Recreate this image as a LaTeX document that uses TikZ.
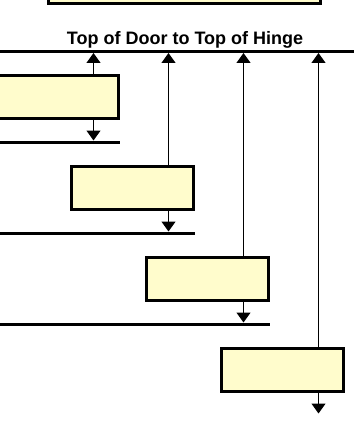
\documentclass[tikz,border=0pt]{standalone}
\usepackage{fontspec}
\setmainfont{Liberation Sans}
\usepackage{tikz}
\usetikzlibrary{arrows.meta,positioning}

\begin{document}
\begin{tikzpicture}[x=1pt,y=-1pt,>={Triangle[width=14pt,length=10pt]}]
    \tikzstyle{hinge}=[draw=black,line width=3pt,fill=yellow!20,minimum width=122pt,minimum height=42.5pt,inner sep=0pt];
    \tikzstyle{rule}=[draw=black,line width=3pt];
    \tikzstyle{dim}=[->,draw=black,line width=1.2pt];
    \tikzstyle{title}=[font=\bfseries\fontsize{18}{20}\selectfont,anchor=base];

    \useasboundingbox (0,0) rectangle (354,436);

    % Door at the top, only its lower part is seen
    \node[hinge, minimum width=272pt, anchor=south west] (door) at (46.5,5.5) {};

    % Reference line at the top of the door
    \node[title] (caption) at (185,45) {Top of Door to Top of Hinge};
    \draw[rule] (0,51.5) -- (354,51.5);
    \coordinate (top) at (0,53);

    % Draw the hinges and their dimension arrows
    \foreach \i / \x / \y in {1/57.5/97, 2/132.5/188, 3/207.5/279, 4/282.5/370}
    {
      \node[hinge] (B-\i) at (\x,\y) {};
      \coordinate (G-\i) at (\x+36,\y+43.5);
      \draw[dim] (B-\i.north -| G-\i) -- (G-\i |- top);
      \draw[dim] (B-\i.south -| G-\i) -- (G-\i);
    }

    % Lines under the first three hinges
    \foreach \i / \x / \y in {1/57.5/97, 2/132.5/188, 3/207.5/279}
    \draw[rule] (0,\y+45) -- (\x+62.5,\y+45);
\end{tikzpicture}
\end{document}
